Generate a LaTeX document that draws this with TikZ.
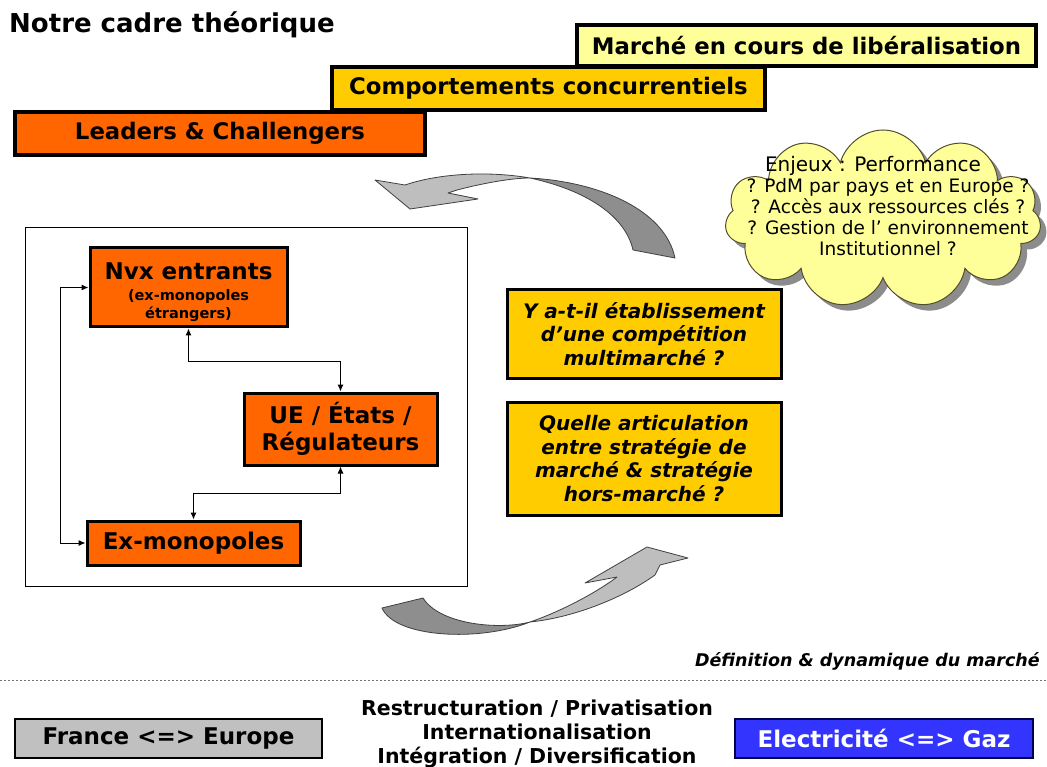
\documentclass[tikz,border=0pt]{standalone}
\usepackage{fontspec}
\setmainfont{DejaVu Sans}
\usetikzlibrary{arrows.meta,shapes.symbols,positioning}
\definecolor{orangebox}{HTML}{FF6600}
\definecolor{goldbox}{HTML}{FFCC00}
\definecolor{paleyellow}{HTML}{FFFF99}
\definecolor{greybox}{HTML}{C0C0C0}
\definecolor{bluebox}{HTML}{3434FF}
\definecolor{arrowdark}{HTML}{8E8E8E}
\definecolor{arrowlight}{HTML}{BEBEBE}
\newcommand{\setfs}[2]{\fontsize{#1}{#2}\selectfont}

\begin{document}
\begin{tikzpicture}[x=1pt,y=-1pt,
  banner/.style={draw=black,line width=3.5pt,inner sep=0pt,font=\bfseries\setfs{22.8}{26}},
  acteur/.style={draw=black,line width=3pt,fill=orangebox,inner sep=0pt,align=center,font=\bfseries\setfs{23}{27}},
  question/.style={draw=black,line width=3pt,fill=goldbox,inner sep=0pt,align=center,font=\bfseries\itshape\setfs{20}{23.5}},
  lien/.style={line width=1pt,{Latex[length=7pt,width=6pt]}-{Latex[length=7pt,width=6pt]}},
  fleche/.style={draw=black!75,line width=0.8pt,line join=round},
  nuage/.style={cloud,cloud puffs=11,cloud ignores aspect,minimum width=316pt,minimum height=178pt,inner sep=0pt},
  pied/.style={draw=black,line width=1.5pt,inner sep=0pt,minimum height=39pt,font=\bfseries\setfs{23}{26}}]
\useasboundingbox[fill=white] (0,0) rectangle (1047,767);

\node[anchor=base west,inner sep=0pt,font=\bfseries\setfs{26}{30}] (titre) at (9,33) {Notre cadre théorique};

\node[banner,fill=paleyellow,minimum width=459pt,minimum height=41pt] (marche) at (806.5,45.5) {Marché en cours de libéralisation};
\node[banner,fill=goldbox,minimum width=433pt,minimum height=43pt] (comport) at (548.5,88.5) {Comportements concurrentiels};
\node[banner,fill=orangebox,minimum width=410pt,minimum height=43pt] (leaders) at (220,133.5) {Leaders \& Challengers};

\node[nuage,fill=black!45] (ombre) at (889,225) {};
\node[nuage,fill=paleyellow,draw=black!55!olive,line width=1pt] (enjeux) at (883,219) {};
\node[align=center,inner sep=0pt,font=\setfs{18.5}{21}] (enjeuxtxt) at (888,206) {\setfs{20}{21}Enjeux : Performance\hspace*{30pt}\\? PdM par pays et en Europe ?\\? Accès aux ressources clés ?\\? Gestion de l’ environnement\\Institutionnel ?};

\filldraw[fleche,fill=arrowdark] (530,178) .. controls (600,182) and (665,210) .. (675,258) -- (633,250) .. controls (625,215) and (585,190) .. (530,178) -- cycle;
\filldraw[fleche,fill=arrowlight] (530,178) .. controls (490,171) and (440,173) .. (405,185) -- (375,180) -- (410,209) -- (478,199) -- (448,193) -- (457,190) .. controls (480,184) and (510,178) .. (530,178) -- cycle;

\node[draw=black,line width=1pt,minimum width=442pt,minimum height=358pt,inner sep=0pt] (cadre) at (246,407) {};
\node[acteur,minimum width=197pt,minimum height=79pt] (nvx) at (188.5,287.5) {\rule{0pt}{28pt}Nvx entrants\\[3pt]{\setfs{14.5}{18}\begin{tabular}{@{}c@{}}(ex-monopoles\\étrangers)\end{tabular}}};
\node[acteur,minimum width=193pt,minimum height=72pt] (ue) at (340.5,429) {UE / États /\\Régulateurs};
\node[acteur,minimum width=213pt,minimum height=44pt] (exmono) at (193.5,543) {Ex-monopoles};

\draw[lien] (nvx.west) -- ++(-28,0) |- (exmono.west);
\draw[lien] (nvx.south) -- ++(0,33) -| (ue.north);
\draw[lien] (ue.south) -- ++(0,27) -| (exmono.north);

\node[question,minimum width=274pt,minimum height=88pt] (multi) at (644,334) {Y a-t-il établissement\\d’une compétition\\multimarché ?};
\node[question,minimum width=274pt,minimum height=113pt] (articul) at (644,458.5) {Quelle articulation\\entre stratégie de\\marché \& stratégie\\hors-marché ?};

\filldraw[fleche,fill=arrowdark] (423,598) .. controls (440,625) and (500,630) .. (530,622) .. controls (480,642) and (395,638) .. (382,608) -- cycle;
\filldraw[fleche,fill=arrowlight] (530,622) .. controls (565,610) and (600,590) .. (617,577) -- (585,583) -- (647,547) -- (688,558) -- (660,565) -- (655,575) .. controls (620,600) and (570,618) .. (530,622) -- cycle;

\node[anchor=base east,inner sep=0pt,font=\bfseries\itshape\setfs{17.5}{20}] (definition) at (1040,666) {Définition \& dynamique du marché};
\draw[black!55,line width=0.8pt,dash pattern=on 2pt off 2pt] (0,680) -- (1047,680);

\node[pied,fill=greybox,minimum width=307pt] (france) at (168.5,738.5) {France <=> Europe};
\node[align=center,inner sep=0pt,font=\bfseries\setfs{20.5}{24}] (processus) at (537,734) {Restructuration / Privatisation\\Internationalisation\\Intégration / Diversification};
\node[pied,fill=bluebox,draw=black!70!blue,text=white,minimum width=298pt] (elec) at (884,738.5) {Electricité <=> Gaz};
\end{tikzpicture}
\end{document}
